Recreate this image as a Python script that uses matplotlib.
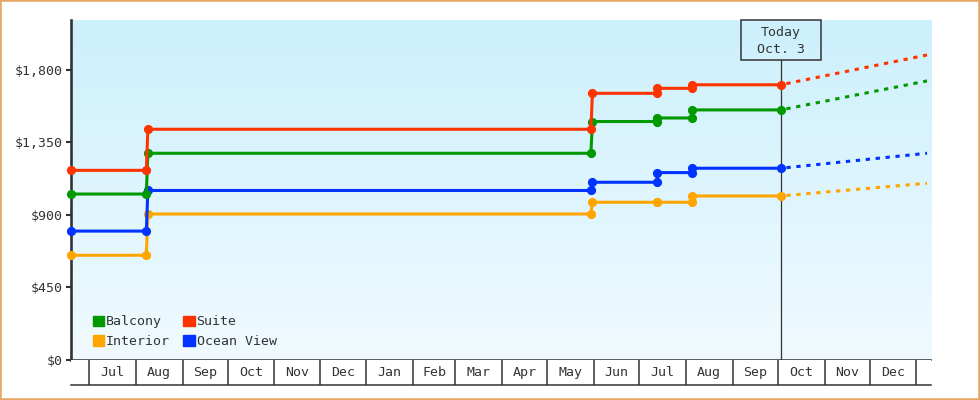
import matplotlib
matplotlib.use("Agg")
import matplotlib.pyplot as plt
import matplotlib.dates as mdates
import numpy as np
import pandas as pd
from matplotlib.colors import LinearSegmentedColormap
from matplotlib.patches import Patch, Rectangle
from matplotlib.transforms import ScaledTranslation, blended_transform_factory

plt.rcParams['font.family'] = ['DejaVu Sans Mono']
plt.rcParams['font.size'] = 9.5

# prix observes
dates = pd.to_datetime(["2022-06-19", "2022-08-08", "2022-08-09", "2023-05-30", "2023-05-31",
                        "2023-07-13", "2023-07-13", "2023-08-05", "2023-08-05", "2023-10-03"])
balcony = [1030, 1030, 1283, 1283, 1480, 1480, 1502, 1502, 1552, 1552]
suite = [1177, 1177, 1432, 1432, 1655, 1655, 1686, 1686, 1708, 1708]
ocean_view = [800, 800, 1052, 1052, 1103, 1103, 1163, 1163, 1190, 1190]
interior = [650, 650, 906, 906, 979, 979, 979, 979, 1018, 1018]

# prevision (pointilles)
forecast_dates = pd.to_datetime(["2023-10-03", "2024-01-08"])
balcony_fc = [1552, 1732]
suite_fc = [1708, 1893]
ocean_view_fc = [1190, 1283]
interior_fc = [1018, 1097]

today = pd.Timestamp("2023-10-03")
months = ["Jul", "Aug", "Sep", "Oct", "Nov", "Dec", "Jan", "Feb", "Mar",
          "Apr", "May", "Jun", "Jul", "Aug", "Sep", "Oct", "Nov", "Dec"]
month_starts = pd.date_range("2022-07-01", periods=len(months) + 1, freq="MS")

y_ticks = [0, 450, 900, 1350, 1800]
y_labels = ["$0", "$450", "$900", "$1,350", "$1,800"]

dark = "#333333"
colors = {"Balcony": "#009900", "Suite": "#ff3300", "Interior": "#ffa500", "Ocean View": "#0033ff"}

fig = plt.figure(figsize=(9.8, 4), dpi=100)
ax = fig.add_axes([71 / 980, 40 / 400, 860 / 980, 340 / 400])
axm = fig.add_axes([71 / 980, 15 / 400, 860 / 980, 25 / 400])

series = [("Interior", interior, interior_fc), ("Ocean View", ocean_view, ocean_view_fc),
          ("Balcony", balcony, balcony_fc), ("Suite", suite, suite_fc)]
for name, vals, fc in series:
    ax.plot(forecast_dates, fc, color=colors[name], lw=2.2, ls=(1.4, (1.4, 1.86)), zorder=3)
    ax.plot(dates, vals, color=colors[name], lw=2.2, marker="o", ms=6.6, mew=0,
            clip_on=False, zorder=4)

# fond en degrade
grad = LinearSegmentedColormap.from_list("bg", ["#ccf0fc", "#f0faff"])
ax.imshow(np.linspace(0, 1, 256).reshape(-1, 1), cmap=grad, extent=[0, 1, 0, 1],
          transform=ax.transAxes, aspect="auto", zorder=0)

xmin, xmax = pd.Timestamp("2022-06-19"), pd.Timestamp("2024-01-10 16:00")
ax.set_xlim(xmin, xmax)
ax.set_ylim(0, 2110)
ax.set_yticks(y_ticks, y_labels)
ax.tick_params(axis="y", length=3.6, width=1.5, pad=2, colors=dark)
ax.tick_params(axis="x", bottom=False, labelbottom=False)
for s in ["top", "right"]:
    ax.spines[s].set_visible(False)
ax.spines["left"].set_linewidth(1.9)
ax.spines["left"].set_color(dark)
ax.spines["bottom"].set_linewidth(1.1)
ax.spines["bottom"].set_color(dark)

# aujourd'hui
t = mdates.date2num(today)
trans = blended_transform_factory(ax.transData, ax.transAxes)
ax.axvline(t, ymin=0, ymax=(360 - 60.3) / 340, color=dark, lw=0.9, zorder=2)
box_tr = fig.dpi_scale_trans + ScaledTranslation(t, 1, trans)
ax.add_patch(Rectangle((-0.398, -0.403), 0.796, 0.403, transform=box_tr, fill=False,
                       ec=dark, lw=1.1, clip_on=False, zorder=5))
ax.annotate("Today\nOct. 3", xy=(t, 1), xycoords=trans, xytext=(0, -15),
            textcoords="offset points", ha="center", va="center", color=dark,
            linespacing=1.45)

handles = [Patch(color=colors[n]) for n in ["Balcony", "Interior", "Suite", "Ocean View"]]
ax.legend(handles, ["Balcony", "Interior", "Suite", "Ocean View"], ncol=2, loc="lower left",
          bbox_to_anchor=(22 / 860, 12 / 340), frameon=False, borderpad=0, borderaxespad=0,
          handlelength=0.85, handleheight=0.85, handletextpad=0.15, columnspacing=1.0,
          labelspacing=0.5, labelcolor=dark)

# bande des mois
axm.set_xlim(xmin, xmax)
axm.set_ylim(0, 1)
axm.vlines(month_starts, 0, 1, color=dark, lw=1.1)
mids = month_starts[:-1] + (month_starts[1:] - month_starts[:-1]) / 2
for m, lab in zip(mids, months):
    axm.text(mdates.date2num(m), 0.5, lab, ha="center", va="center", color=dark)
axm.set_xticks([])
axm.set_yticks([])
for s in ["top", "left", "right"]:
    axm.spines[s].set_visible(False)
axm.spines["bottom"].set_linewidth(1.1)
axm.spines["bottom"].set_color(dark)

fig.patches.append(Rectangle((0, 0), 1, 1, transform=fig.transFigure, fill=False,
                             ec="#e8a865", lw=2.6))

fig.savefig("out.png", dpi=100)
